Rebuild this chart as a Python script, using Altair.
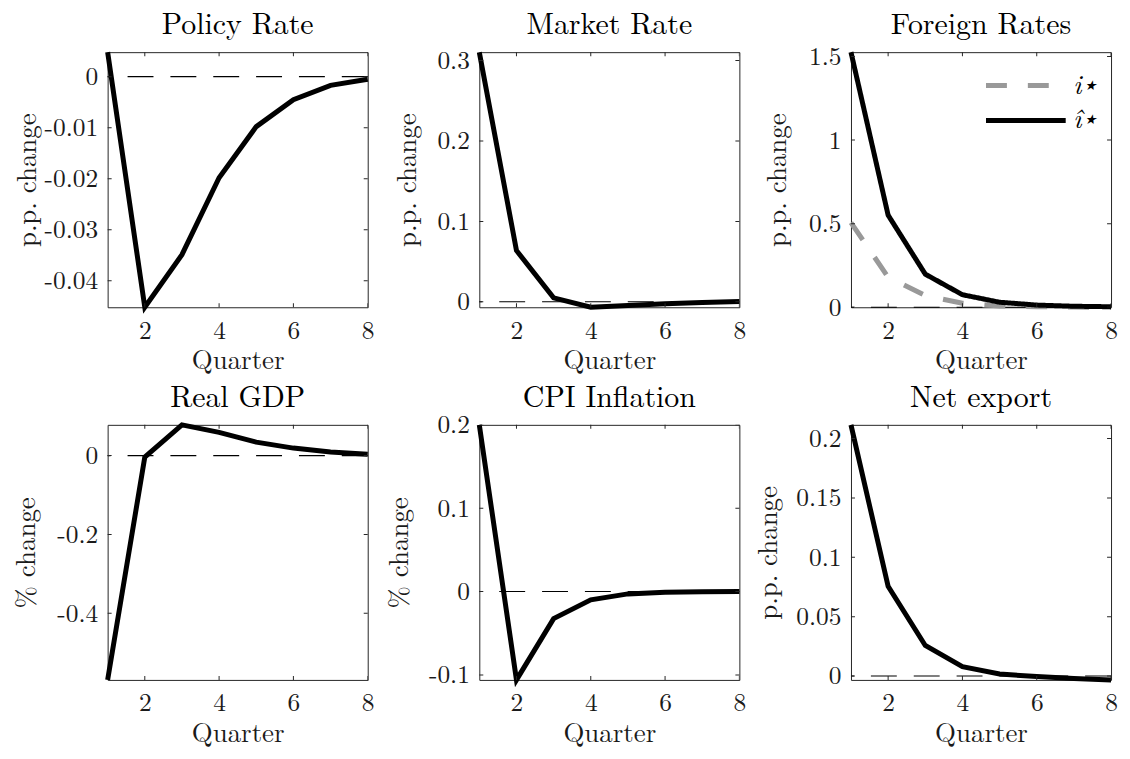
import altair as alt
import pandas as pd

# ---------------- data ----------------
quarters = [1, 2, 3, 4, 5, 6, 7, 8]
x_ticks = [2, 4, 6, 8]

policy_rate = [0.0048, -0.0452, -0.0349, -0.0198, -0.0098, -0.0045, -0.0017, -0.0005]
market_rate = [0.3105, 0.0638, 0.0049, -0.0068, -0.0045, -0.0025, -0.0010, 0.0003]
foreign_i_star = [0.506, 0.18, 0.07, 0.024, 0.008, 0.003, 0.001, 0.0003]
foreign_i_hat_star = [1.526, 0.551, 0.198, 0.075, 0.030, 0.013, 0.006, 0.003]
real_gdp = [-0.569, -0.004, 0.078, 0.059, 0.034, 0.019, 0.009, 0.0035]
cpi_inflation = [0.200, -0.106, -0.0325, -0.0099, -0.0028, -0.0008, -0.0002, 0.0]
net_export = [0.2116, 0.0755, 0.0257, 0.0078, 0.0017, -0.0005, -0.0022, -0.0033]

ticks_policy = [-0.04, -0.03, -0.02, -0.01, 0]
ticks_market = [0, 0.1, 0.2, 0.3]
ticks_foreign = [0, 0.5, 1, 1.5]
ticks_gdp = [-0.4, -0.2, 0]
ticks_cpi = [-0.1, 0, 0.1, 0.2]
ticks_netexp = [0, 0.05, 0.1, 0.15, 0.2]

legend_names = ["i\u22c6", "\u00ee\u22c6"]

# ---------------- style ----------------
FONT = "Latin Modern Roman"
W, H = 261, 256
COL_GAP = 112
ROW_GAP = 118
AX = "#262626"
TXT = "#1a1a1a"
LW = 5


def panel(title, series, yticks, ytitle, ytitle_pad, with_legend=False):
    rows = []
    for name, vals in series:
        for q, v in zip(quarters, vals):
            rows.append({"quarter": q, "value": v, "series": name})
    df = pd.DataFrame(rows)
    allv = [v for _, vals in series for v in vals] + [0]
    xscale = alt.Scale(domain=[quarters[0], quarters[-1]], nice=False, zero=False)
    yscale = alt.Scale(domain=[min(allv), max(allv)], nice=False, zero=False)
    xaxis = alt.Axis(values=x_ticks, title="Quarter", labelFont=FONT, titleFont=FONT,
                     labelFlush=False, labelOverlap=False)
    yaxis = alt.Axis(values=yticks, title=ytitle, labelExpr="'' + datum.value",
                     titlePadding=ytitle_pad, labelFont=FONT, titleFont=FONT,
                     labelFlush=False, labelOverlap=False)

    zero = alt.Chart(pd.DataFrame({"z": [0]})).mark_rule(
        color="black", strokeWidth=1.1, strokeDash=[26, 17]
    ).encode(y=alt.Y("z:Q", scale=yscale, axis=yaxis))

    if with_legend:
        names = [n for n, _ in series]
        leg = alt.Legend(title=None, orient="none", legendX=2 * (W + COL_GAP) + 133, legendY=16,
                         symbolType="stroke", symbolSize=6400, symbolStrokeWidth=LW,
                         clipHeight=35, labelFont=FONT, labelFontStyle="italic",
                         labelFontSize=27, labelOffset=5, rowPadding=0, padding=0,
                         labelColor="black")
        color = alt.Color("series:N", scale=alt.Scale(domain=names, range=["#999999", "#000000"]),
                          legend=leg)
        dash = alt.StrokeDash("series:N", scale=alt.Scale(domain=names, range=[[21, 21], [1, 0]]),
                              legend=leg)
        line = alt.Chart(df).mark_line(strokeWidth=LW, strokeCap="butt").encode(
            x=alt.X("quarter:Q", scale=xscale, axis=xaxis),
            y=alt.Y("value:Q", scale=yscale, axis=yaxis),
            color=color, strokeDash=dash, detail="series:N",
            order=alt.Order("quarter:Q"),
        )
    else:
        line = alt.Chart(df).mark_line(strokeWidth=LW, color="black").encode(
            x=alt.X("quarter:Q", scale=xscale, axis=xaxis),
            y=alt.Y("value:Q", scale=yscale, axis=yaxis),
            order=alt.Order("quarter:Q"),
        )

    xt = pd.DataFrame({"t": x_ticks})
    yt = pd.DataFrame({"t": yticks})
    tick_style = dict(size=8, thickness=1, color=AX, clip=True, opacity=1)
    xb = alt.Chart(xt).mark_tick(orient="vertical", **tick_style).encode(
        x=alt.X("t:Q", scale=xscale, axis=xaxis), y=alt.value(H))
    xtp = alt.Chart(xt).mark_tick(orient="vertical", **tick_style).encode(
        x=alt.X("t:Q", scale=xscale, axis=xaxis), y=alt.value(0))
    yl = alt.Chart(yt).mark_tick(orient="horizontal", **tick_style).encode(
        y=alt.Y("t:Q", scale=yscale, axis=yaxis), x=alt.value(0))
    yr = alt.Chart(yt).mark_tick(orient="horizontal", **tick_style).encode(
        y=alt.Y("t:Q", scale=yscale, axis=yaxis), x=alt.value(W))
    # invisible spacer so that every panel's top bound is the same (aligns titles)
    spacer = alt.Chart(pd.DataFrame({"s": [0]})).mark_tick(
        orient="vertical", size=28, thickness=1, opacity=0
    ).encode(x=alt.value(W / 2), y=alt.value(0))

    return alt.layer(zero, line, xb, xtp, yl, yr, spacer).properties(
        width=W, height=H,
        title=alt.TitleParams(title, font=FONT, fontSize=30, fontWeight="normal",
                              color="black", offset=-2),
    )


p1 = panel("Policy Rate", [("policy", policy_rate)], ticks_policy, "p.p. change", 3)
p2 = panel("Market Rate", [("market", market_rate)], ticks_market, "p.p. change", 15)
p3 = panel("Foreign Rates", [(legend_names[0], foreign_i_star), (legend_names[1], foreign_i_hat_star)],
           ticks_foreign, "p.p. change", 17, with_legend=True)
p4 = panel("Real GDP", [("gdp", real_gdp)], ticks_gdp, "% change", 16)
p5 = panel("CPI Inflation", [("cpi", cpi_inflation)], ticks_cpi, "% change", 15)
p6 = panel("Net export", [("nx", net_export)], ticks_netexp, "p.p. change", 13)

chart = alt.concat(p1, p2, p3, p4, p5, p6, columns=3, spacing={"row": ROW_GAP, "column": COL_GAP},
                   bounds="flush").properties(
    padding={"left": 4, "top": 0, "right": 0, "bottom": 0},
    background="white",
).configure(
    font=FONT
).configure_view(
    stroke=AX, strokeWidth=1
).configure_axis(
    domain=False, ticks=False, grid=False,
    labelFont=FONT, labelFontSize=25.5, labelColor=TXT,
    titleFont=FONT, titleFontSize=27, titleFontWeight="normal", titleColor=TXT,
).configure_axisX(
    labelPadding=11, titlePadding=4
).configure_axisY(
    labelPadding=10
)

chart.save("out.html", embed_options={"renderer": "svg", "actions": False})
